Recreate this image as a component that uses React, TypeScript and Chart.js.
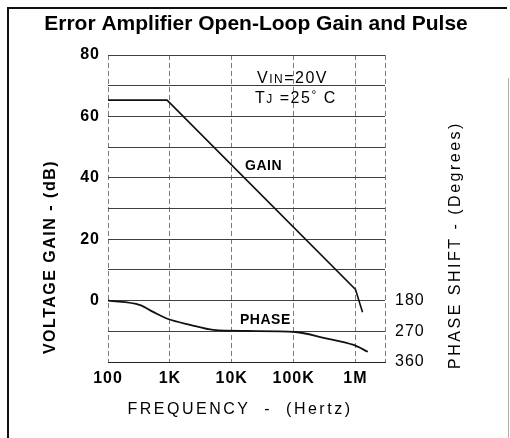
import React, { useEffect, useRef } from 'react';
import { Chart, registerables } from 'chart.js';

Chart.register(...registerables);

// ---- data ----
const gainFreq = [100, 900, 1000000, 1300000];
const gainDb = [65.3, 65.3, 3.6, -3.8];
const phaseFreq = [100, 330, 536, 938, 2130, 5030, 17900, 107000, 306000, 935000, 1580000];
const phaseDeg = [180, 193, 213, 234, 251, 266, 269, 272, 289, 310, 330];
const freqTicks = [100, 1000, 10000, 100000, 1000000, 3000000];
const freqLabels = ['100', '1K', '10K', '100K', '1M', ''];
const gainLabelTicks = [0, 20, 40, 60, 80];
const phaseTicks = [180, 270, 360];

const SANS = '"Liberation Sans", Arial, Helvetica, sans-serif';

function runs(ctx: CanvasRenderingContext2D, parts: { t: string; font: string; dy?: number }[], x: number, y: number) {
  let cx = x;
  for (const p of parts) {
    ctx.font = p.font;
    ctx.fillText(p.t, cx, y + (p.dy || 0));
    cx += ctx.measureText(p.t).width;
  }
}

const decorPlugin = {
  id: 'decor',
  beforeDraw(chart: any) {
    const ctx: CanvasRenderingContext2D = chart.ctx;
    ctx.save();
    ctx.fillStyle = '#ffffff';
    ctx.fillRect(0, 0, chart.width, chart.height);
    ctx.strokeStyle = '#111';
    ctx.lineWidth = 2;
    ctx.beginPath();
    ctx.moveTo(8, 438);
    ctx.lineTo(8, 8);
    ctx.lineTo(507, 8);
    ctx.stroke();
    ctx.strokeStyle = '#b0b0b0';
    ctx.lineWidth = 1;
    ctx.beginPath();
    ctx.moveTo(508.5, 78);
    ctx.lineTo(508.5, 438);
    ctx.stroke();
    ctx.restore();
    (ctx as any).letterSpacing = '1px';
  },
  afterDraw(chart: any) {
    const ctx: CanvasRenderingContext2D = chart.ctx;
    const { x, y } = chart.scales;
    ctx.save();
    ctx.fillStyle = '#000';
    ctx.textBaseline = 'alphabetic';

    // title
    (ctx as any).letterSpacing = '0px';
    ctx.textAlign = 'center';
    ctx.font = `bold 21px ${SANS}`;
    ctx.fillText('Error Amplifier Open-Loop Gain and Pulse', 256, 29.5);

    // x title
    (ctx as any).letterSpacing = '2.5px';
    ctx.font = `16px ${SANS}`;
    ctx.fillText('FREQUENCY  -  (Hertz)', 240, 413.5);

    // left title
    ctx.save();
    ctx.translate(55, 257);
    ctx.rotate(-Math.PI / 2);
    (ctx as any).letterSpacing = '1.5px';
    ctx.font = `bold 16px ${SANS}`;
    ctx.fillText('VOLTAGE GAIN - (dB)', 0, 0);
    ctx.restore();

    // right title
    ctx.save();
    ctx.translate(460, 245);
    ctx.rotate(-Math.PI / 2);
    (ctx as any).letterSpacing = '2.5px';
    ctx.font = `16px ${SANS}`;
    ctx.fillText('PHASE SHIFT - (Degrees)', 0, 0);
    ctx.restore();

    // annotations
    ctx.textAlign = 'left';
    (ctx as any).letterSpacing = '1.5px';
    const big = `16px ${SANS}`;
    const small = `12px ${SANS}`;
    runs(ctx, [
      { t: 'V', font: big },
      { t: 'IN', font: small },
      { t: '=20V', font: big },
    ], x.getPixelForValue(25600), y.getPixelForValue(70.9));
    runs(ctx, [
      { t: 'T', font: big },
      { t: 'J', font: small },
      { t: ' =25', font: big },
      { t: '°', font: small, dy: -4 },
      { t: ' C', font: big },
    ], x.getPixelForValue(23800), y.getPixelForValue(64.5));

    (ctx as any).letterSpacing = '0.5px';
    ctx.font = `bold 14px ${SANS}`;
    ctx.fillText('GAIN', x.getPixelForValue(16400), y.getPixelForValue(42.5));
    ctx.fillText('PHASE', x.getPixelForValue(13600), y.getPixelForValue(-7.5));

    ctx.restore();
  },
};

export default function App() {
  const ref = useRef<HTMLCanvasElement | null>(null);

  useEffect(() => {
    if (!ref.current) return;
    const chart = new Chart(ref.current, {
      type: 'line',
      data: {
        datasets: [
          {
            label: 'GAIN',
            data: gainFreq.map((f, i) => ({ x: f, y: gainDb[i] })),
            yAxisID: 'y',
            borderColor: '#111',
            borderWidth: 1.6,
            pointRadius: 0,
            tension: 0,
            fill: false,
          },
          {
            label: 'PHASE',
            data: phaseFreq.map((f, i) => ({ x: f, y: phaseDeg[i] })),
            yAxisID: 'y2',
            borderColor: '#111',
            borderWidth: 1.8,
            pointRadius: 0,
            cubicInterpolationMode: 'monotone',
            fill: false,
          },
        ],
      },
      options: {
        responsive: false,
        animation: false,
        devicePixelRatio: 1,
        layout: { padding: { top: 55, left: 0, right: 0, bottom: 0 } },
        plugins: { legend: { display: false }, title: { display: false }, tooltip: { enabled: false } },
        scales: {
          x: {
            type: 'logarithmic',
            min: 100,
            max: 3000000,
            afterBuildTicks: (s: any) => {
              s.ticks = freqTicks.map((v) => ({ value: v }));
            },
            afterFit: (s: any) => {
              s.height = 76;
            },
            ticks: {
              autoSkip: false,
              maxRotation: 0,
              padding: 7,
              color: '#000',
              font: { family: SANS, size: 16, weight: 'bold' },
              callback: (v: any) => {
                const i = freqTicks.indexOf(Number(v));
                return i >= 0 ? freqLabels[i] : '';
              },
            },
            grid: { color: '#7a7a7a', lineWidth: 1, drawTicks: false },
            border: { display: true, color: '#222', width: 1, dash: [5, 3] },
          },
          y: {
            type: 'linear',
            position: 'left',
            min: -20,
            max: 80,
            afterFit: (s: any) => {
              s.width = 108;
            },
            ticks: {
              stepSize: 10,
              padding: 8,
              color: '#000',
              font: { family: SANS, size: 16, weight: 'bold' },
              callback: (v: any) => (gainLabelTicks.includes(Number(v)) ? String(v) : ''),
            },
            grid: { color: '#404040', lineWidth: 1, drawTicks: false },
            border: { display: false },
          },
          y2: {
            type: 'linear',
            position: 'right',
            reverse: true,
            min: -540,
            max: 360,
            afterBuildTicks: (s: any) => {
              s.ticks = phaseTicks.map((v) => ({ value: v }));
            },
            afterFit: (s: any) => {
              s.width = 125;
            },
            ticks: {
              padding: 10,
              color: '#000',
              font: { family: SANS, size: 16 },
              callback: (v: any) => String(v),
            },
            grid: { display: false, drawTicks: false },
            border: { display: false },
          },
        },
      } as any,
      plugins: [decorPlugin as any],
    });
    return () => chart.destroy();
  }, []);

  return (
    <div style={{ position: 'fixed', left: 0, top: 0, width: 510, height: 438, background: '#fff' }}>
      <canvas ref={ref} width={510} height={438} style={{ display: 'block' }} />
    </div>
  );
}
